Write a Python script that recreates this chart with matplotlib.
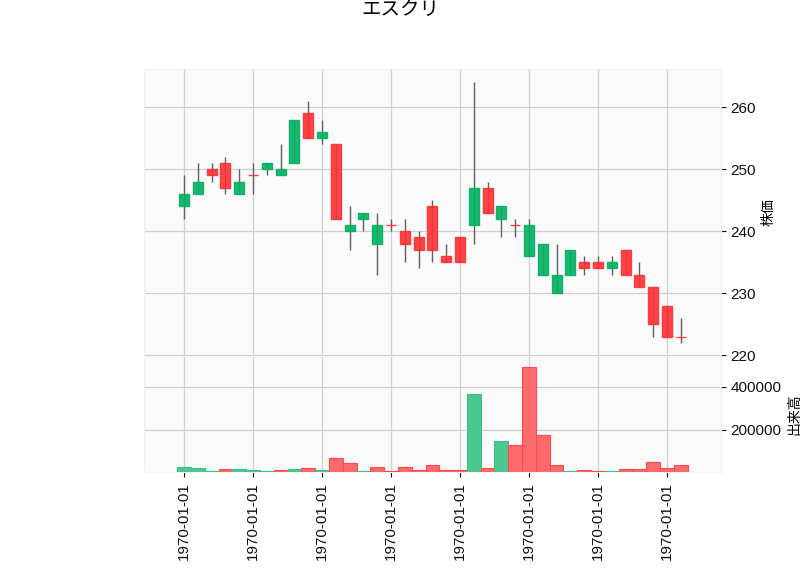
import matplotlib
matplotlib.use("Agg")
import matplotlib.pyplot as plt
import numpy as np

plt.rcParams['font.family'] = ['Liberation Sans', 'Noto Sans CJK JP', 'DejaVu Sans']

# 日足データ (インデックスは整数なので日付は全部 1970-01-01 になる)
opens = [244, 246, 250, 251, 246, 249, 250, 249, 251, 259, 255, 254, 240, 242, 238, 241, 240, 239, 244,
         236, 239, 241, 247, 242, 241, 236, 233, 230, 233, 235, 235, 234, 237, 233, 231, 228, 223]
highs = [249, 251, 251, 252, 250, 251, 251, 254, 258, 261, 258, 254, 244, 243, 243, 242, 242, 240, 245,
         238, 239, 264, 248, 244, 242, 242, 238, 238, 237, 236, 236, 236, 237, 235, 231, 228, 226]
lows = [242, 246, 248, 246, 246, 246, 249, 249, 251, 255, 254, 242, 237, 240, 233, 240, 235, 234, 235,
        235, 235, 238, 243, 239, 239, 236, 233, 230, 233, 233, 234, 233, 233, 231, 223, 223, 222]
closes = [246, 248, 249, 247, 248, 249, 251, 250, 258, 255, 256, 242, 241, 243, 241, 241, 238, 237, 237,
          235, 235, 247, 243, 244, 241, 241, 238, 233, 237, 234, 234, 235, 233, 231, 225, 223, 223]
volumes = [25400, 20600, 6400, 15900, 15900, 11100, 6400, 11100, 15900, 20600, 11100, 68200, 44400,
           6400, 25400, 6400, 25400, 11100, 35000, 11100, 11100, 368000, 20600, 149000, 130000, 495000,
           176000, 35000, 6400, 11100, 6400, 6400, 15900, 15900, 49200, 20600, 35000]
tick_every = 5
tick_label = "1970-01-01"

up_c, down_c = '#00b060', '#fe3032'
vol_up, vol_down = '#4dc790', '#fd6b6c'

x = np.arange(len(opens))
o = np.array(opens, dtype=float)
c = np.array(closes, dtype=float)
up = c > o
body_colors = [up_c if u else down_c for u in up]
# 出来高の色は前日終値との比較
vup = [up[0]] + [closes[i] > closes[i - 1] for i in range(1, len(closes))]
vcolors = [vol_up if u else vol_down for u in vup]
vedges = ['#3dbf85' if u else '#fe4a4b' for u in vup]

fig = plt.figure(figsize=(8, 5.75), dpi=100)
ax = fig.add_axes([0.18, 0.381, 0.721, 0.4985])
axv = fig.add_axes([0.18, 0.179, 0.721, 0.202], sharex=ax)

for a in (ax, axv):
    a.set_facecolor('#fafafa')
    a.grid(True, color='#d0d0d0', linestyle='-', linewidth=0.9)
    a.set_axisbelow(True)
    for s in a.spines.values():
        s.set_color('#f0f0f0')
    a.yaxis.tick_right()
    a.yaxis.set_label_position('right')
    a.tick_params(colors='#101010', labelsize=11)

# ローソク足
ax.vlines(x, lows, highs, color='#606060', linewidth=1.0, zorder=2)
ax.bar(x, c - o, bottom=o, width=0.72, color=body_colors, edgecolor=body_colors,
       linewidth=1.0, alpha=0.9, zorder=3)

rng = max(highs) - min(lows)
ax.set_ylim(min(lows) - 0.05 * rng, max(highs) + 0.05 * rng)
ax.set_xlim(-2.9, len(opens) + 1.9)
ax.set_ylabel("株価", fontsize=10)
ax.tick_params(axis='x', labelbottom=False)

# 出来高
axv.bar(x, volumes, width=1.0, color=vcolors, edgecolor=vedges, linewidth=0.8, zorder=3)
axv.set_ylim(0.3 * min(volumes), 1.1 * max(volumes))
axv.set_yticks([200000, 400000])
axv.set_yticklabels(["200000", "400000"])
axv.set_ylabel("出来高", fontsize=10)

ticks = x[::tick_every]
axv.set_xticks(ticks)
axv.set_xticklabels([tick_label] * len(ticks), rotation=90)

fig.text(0.5, 0.982, "エスクリ", ha='center', va='center', fontsize=14)

fig.savefig("out.png", dpi=100)
